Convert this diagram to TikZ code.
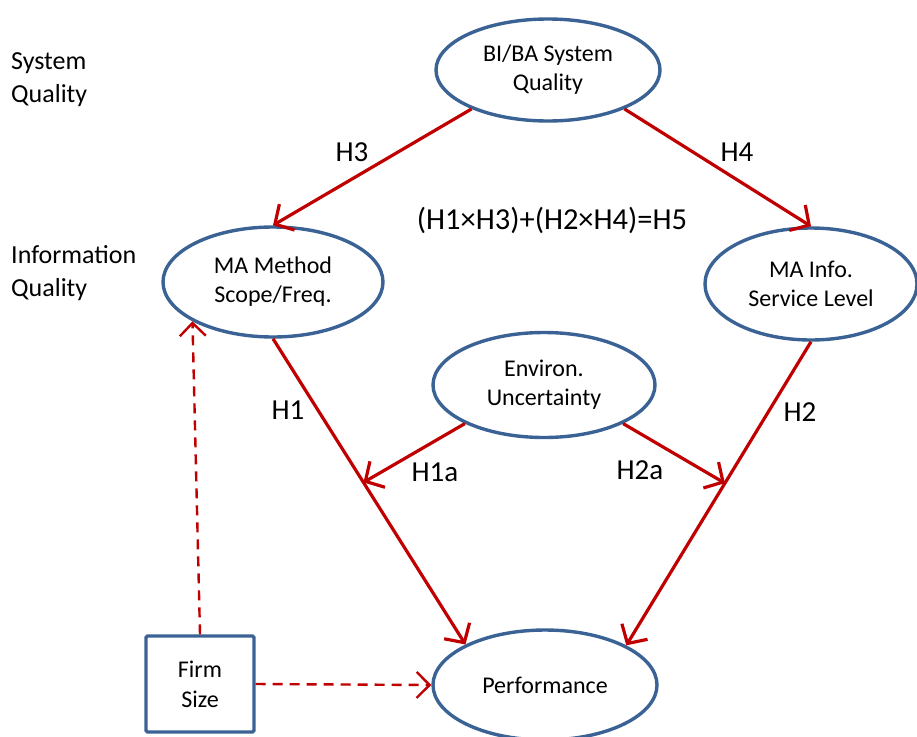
\documentclass[tikz,border=0pt]{standalone}
\usepackage{fontspec}
\setmainfont{Carlito}
\usetikzlibrary{arrows.meta,shapes.geometric}
\definecolor{ered}{HTML}{C00000}
\definecolor{eblue}{HTML}{3A6294}
\tikzset{
  construct/.style={ellipse, draw=eblue, line width=3.4pt, fill=white, inner sep=0pt,
     align=center, font=\fontsize{24}{29}\selectfont},
  hyp/.style={draw=ered, line width=3.2pt, -{Straight Barb[length=14pt,width=30pt,line width=3.2pt]}},
  ctrl/.style={draw=ered, line width=2.4pt, dash pattern=on 10pt off 7pt, -{Straight Barb[length=13pt,width=26pt,line width=2.4pt]}},
  hlabel/.style={font=\fontsize{29}{34}\selectfont, inner sep=0pt},
  sidelabel/.style={font=\fontsize{26}{33}\selectfont, align=left, anchor=west, inner sep=0pt},
}
\begin{document}
\begin{tikzpicture}[x=1pt,y=-1pt]
\useasboundingbox (0,0) rectangle (917,736);
\node[sidelabel] (sq) at (11,80) {System\\Quality};
\node[sidelabel] (iq) at (11,273) {Information\\Quality};

\node[construct, minimum width=224pt, minimum height=102pt] (bi) at (548,70) {BI/BA System\\Quality};
\node[construct, minimum width=220pt, minimum height=110pt] (ma) at (273,282) {MA Method\\Scope/Freq.};
\node[construct, minimum width=212pt, minimum height=112pt] (info) at (811,284) {MA Info.\\Service Level};
\node[construct, minimum width=222pt, minimum height=105pt] (env) at (544,385) {Environ.\\Uncertainty};
\node[construct, minimum width=224pt, minimum height=110pt] (perf) at (545,685) {Performance};
\node[draw=eblue, line width=3.4pt, rounded corners=1.5pt, minimum width=108pt, minimum height=96pt,
      align=center, font=\fontsize{24}{30}\selectfont] (firm) at (200,684) {Firm\\Size};

\draw[hyp] (bi.207) -- (ma.north);
\draw[hyp] (bi.333) -- (info.north);
\draw[hyp] (ma.south) -- (perf.153) coordinate[pos=0.47] (h1m);
\draw[hyp] (info.south) -- (perf.26) coordinate[pos=0.466] (h2m);
\draw[hyp] (env.206) -- (h1m);
\draw[hyp] (env.334) -- (h2m);

\draw[ctrl] (firm.north) -- (ma.206);
\draw[ctrl] (firm.east) -- (perf.west);

\node[hlabel] (lh3) at (352,152) {H3};
\node[hlabel] (lh4) at (737,152) {H4};
\node[hlabel, font=\fontsize{30.5}{34}\selectfont] (lh5) at (552,220) {(H1×H3)+(H2×H4)=H5};
\node[hlabel] (lh1) at (288,410) {H1};
\node[hlabel] (lh2) at (800,412) {H2};
\node[hlabel] (lh1a) at (435,472) {H1a};
\node[hlabel] (lh2a) at (640,470) {H2a};
\end{tikzpicture}
\end{document}
